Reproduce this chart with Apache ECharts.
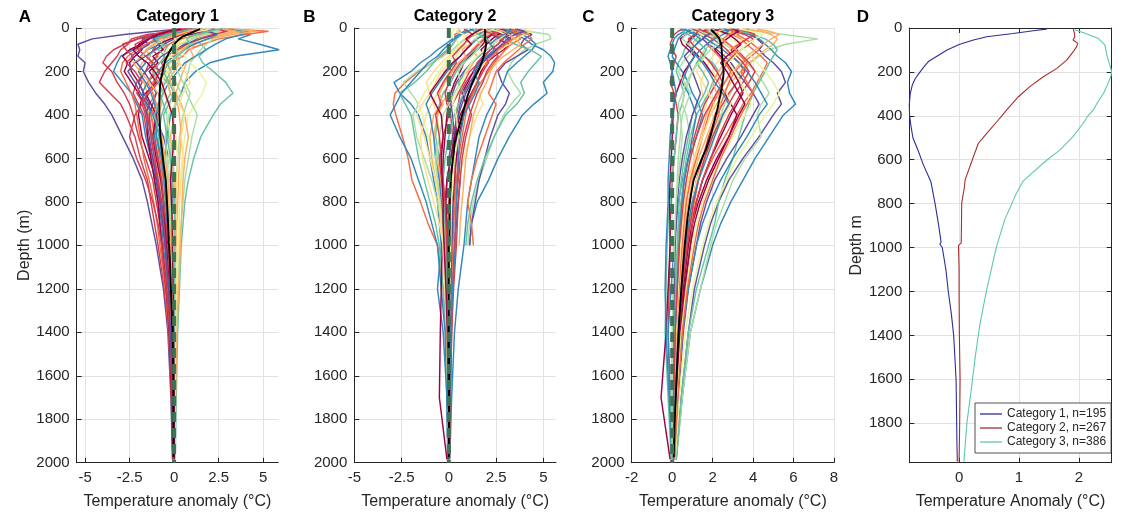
<!DOCTYPE html>
<html><head><meta charset="utf-8">
<script src="https://cdn.jsdelivr.net/npm/echarts@6/dist/echarts.min.js"></script>
<style>html,body{margin:0;padding:0;background:#fff}#c{width:1124px;height:515px}</style>
</head><body><div id="c"></div>
<script>
// ---------------- DATA ----------------
const depthLevels = [5, 15, 30, 50, 75, 100, 130, 160, 200, 250, 300, 350, 400, 500, 600, 700, 800, 900, 1000, 1200, 1400, 1700, 1985];

const cat1Profiles = [
 [0.3,-1.0,-2.8,-4.6,-5.4,-5.3,-5.4,-5.0,-5.1,-4.8,-4.4,-3.9,-3.5,-2.9,-2.3,-1.8,-1.5,-1.25,-1.0,-0.6,-0.35,-0.18,-0.09],
 [2.2,3.5,4.3,3.6,4.8,5.9,3.4,2.0,1.2,0.6,0.4,0.1,-0.2,-0.4,-0.5,-0.4,-0.35,-0.3,-0.25,-0.15,-0.1,-0.05,-0.02],
 [3.0,5.3,4.0,2.5,1.6,0.8,0.5,-0.3,-0.8,-1.2,-1.0,-1.4,-1.3,-1.1,-0.9,-0.8,-0.6,-0.5,-0.45,-0.3,-0.2,-0.1,-0.05],
 [1.0,0.2,-1.5,-2.4,-2.6,-3.0,-3.2,-3.5,-3.9,-4.2,-3.6,-3.0,-2.7,-2.2,-1.9,-1.5,-1.3,-1.1,-0.9,-0.55,-0.3,-0.15,-0.08],
 [1.5,2.0,1.6,1.2,1.5,1.8,1.4,1.6,2.2,2.9,3.3,2.6,2.2,1.5,1.1,0.8,0.6,0.5,0.4,0.3,0.2,0.12,0.06],
 [1.8,2.5,1.9,1.0,0.6,0.3,0.1,-0.2,-0.4,-0.6,-0.7,-0.8,-0.9,-0.7,-0.5,-0.4,-0.3,-0.25,-0.2,-0.12,-0.05,0.0,0.02],
 [1.2,0.8,-0.5,-1.5,-2.0,-1.8,-2.2,-2.5,-2.4,-2.0,-1.7,-1.9,-2.0,-1.8,-1.4,-1.0,-0.8,-0.6,-0.5,-0.3,-0.2,-0.1,-0.05],
 [2.5,3.2,2.8,2.2,1.8,1.5,1.2,0.9,0.8,0.6,0.9,0.7,0.5,0.3,0.2,0.1,0.05,0.0,-0.05,-0.05,-0.02,0.0,0.01],
 [1.0,1.5,0.3,-0.8,-1.5,-2.3,-3.0,-3.2,-3.4,-2.9,-2.4,-2.1,-1.8,-1.6,-1.3,-1.1,-0.9,-0.7,-0.6,-0.35,-0.2,-0.1,-0.04],
 [2.0,1.2,0.0,-0.8,-1.2,-1.6,-1.3,-1.8,-2.0,-1.7,-1.5,-1.6,-1.4,-1.2,-1.0,-0.8,-0.65,-0.5,-0.4,-0.25,-0.15,-0.08,-0.04],
 [0.5,-0.5,-1.0,-2.0,-2.8,-3.4,-3.8,-4.0,-3.5,-3.2,-2.8,-2.5,-2.3,-2.0,-1.6,-1.2,-1.0,-0.8,-0.65,-0.4,-0.22,-0.12,-0.06],
 [1.4,1.0,0.5,0.2,-0.3,-0.5,-0.6,-0.4,-0.2,-0.5,-0.8,-0.6,-0.4,-0.3,-0.2,-0.1,0.0,0.05,0.08,0.06,0.04,0.02,0.01],
 [2.8,3.8,3.0,1.8,1.2,0.9,1.1,0.7,0.5,0.3,0.1,0.2,0.3,0.4,0.3,0.25,0.2,0.15,0.1,0.05,0.02,0.01,0.0],
 [1.0,0.0,-0.9,-1.8,-1.4,-1.9,-2.4,-2.1,-1.7,-1.3,-1.0,-1.2,-1.4,-1.3,-1.1,-0.9,-0.7,-0.55,-0.45,-0.3,-0.18,-0.09,-0.04],
 [2.2,2.9,2.4,1.6,0.8,0.4,0.6,0.9,1.4,1.8,1.6,1.2,0.8,0.6,0.45,0.35,0.3,0.25,0.2,0.12,0.08,0.04,0.02],
 [1.6,1.0,0.4,-0.2,-0.9,-1.2,-0.9,-1.4,-1.6,-2.1,-2.3,-2.0,-1.7,-1.5,-1.2,-0.95,-0.8,-0.6,-0.5,-0.3,-0.18,-0.09,-0.05],
 [2.6,4.2,3.8,2.9,2.3,1.8,1.2,0.6,0.2,-0.3,-0.6,-0.9,-1.0,-1.1,-0.9,-0.7,-0.55,-0.45,-0.35,-0.2,-0.12,-0.06,-0.03],
 [1.3,0.6,-0.2,-1.0,-1.6,-2.1,-2.6,-2.9,-3.0,-2.7,-2.4,-2.2,-2.1,-1.9,-1.7,-1.4,-1.15,-0.95,-0.8,-0.5,-0.3,-0.15,-0.07],
 [1.9,2.3,1.5,0.9,0.3,0.0,-0.3,-0.1,0.2,0.5,0.7,1.0,1.3,1.0,0.8,0.6,0.5,0.4,0.3,0.2,0.12,0.06,0.03],
 [0.8,0.1,-1.1,-1.4,-1.9,-2.5,-2.9,-2.6,-2.8,-2.4,-2.0,-1.7,-1.5,-1.5,-1.3,-1.1,-0.9,-0.8,-0.7,-0.45,-0.28,-0.14,-0.07],
 [2.4,1.6,1.1,0.5,0.1,-0.3,-0.8,-1.0,-1.2,-1.0,-0.6,-0.3,-0.1,0.1,0.2,0.15,0.1,0.1,0.08,0.05,0.03,0.02,0.01],
 [1.1,0.4,-0.3,-0.6,-0.4,-1.0,-1.5,-1.2,-0.9,-0.4,-0.2,-0.5,-0.7,-0.9,-0.8,-0.6,-0.5,-0.4,-0.35,-0.25,-0.15,-0.08,-0.04],
 [1.7,2.0,0.9,0.0,-0.6,-1.1,-1.6,-2.2,-2.6,-2.2,-1.9,-1.5,-1.1,-0.6,-0.3,-0.2,-0.1,-0.15,-0.2,-0.15,-0.1,-0.05,-0.02],
 [3.4,4.6,3.3,2.0,1.0,0.3,-0.1,0.0,-0.3,-0.2,0.1,0.4,0.6,0.8,0.6,0.5,0.45,0.4,0.35,0.25,0.15,0.08,0.04],
 [1.5,1.8,2.5,1.9,1.1,0.6,0.0,-0.5,-0.9,-1.5,-1.8,-1.6,-1.2,-0.8,-0.7,-0.55,-0.45,-0.35,-0.3,-0.2,-0.12,-0.06,-0.03],
 [2.0,3.0,2.2,1.3,0.7,0.2,-0.4,-0.7,-0.5,-0.9,-1.4,-1.8,-2.2,-2.5,-2.1,-1.6,-1.2,-0.9,-0.7,-0.45,-0.25,-0.12,-0.06],
 [1.4,2.1,1.3,0.4,-0.3,-0.7,-1.0,-1.3,-1.1,-1.5,-1.2,-1.0,-1.3,-1.0,-0.8,-0.6,-0.45,-0.35,-0.3,-0.2,-0.1,-0.05,-0.02],
 [0.9,1.6,0.8,-0.2,-0.9,-0.6,-1.2,-0.9,-1.4,-1.0,-1.6,-1.3,-1.0,-1.2,-1.0,-0.75,-0.6,-0.5,-0.4,-0.25,-0.15,-0.08,-0.03],
 [2.1,1.4,0.6,0.9,0.2,-0.4,-0.2,-0.6,-0.3,-0.8,-0.5,-0.2,-0.4,-0.2,-0.3,-0.2,-0.15,-0.1,-0.1,-0.05,-0.03,0.0,0.0],
 [1.2,0.5,-0.6,-1.2,-0.8,-1.5,-1.9,-1.6,-2.0,-1.6,-1.3,-1.1,-0.9,-1.0,-0.7,-0.55,-0.45,-0.4,-0.3,-0.2,-0.1,-0.05,-0.02],
 [2.7,3.5,2.6,1.4,0.9,0.5,0.1,0.3,0.0,-0.4,-0.2,0.1,0.0,-0.2,-0.1,0.0,0.1,0.05,0.0,0.0,0.0,0.0,0.0],
 [0.6,-0.2,-1.3,-2.1,-2.9,-2.7,-2.3,-2.7,-2.2,-1.8,-2.1,-1.7,-1.5,-1.3,-1.1,-0.9,-0.75,-0.6,-0.5,-0.3,-0.18,-0.08,-0.04],
 [1.9,2.6,1.7,1.1,0.4,0.1,0.4,0.2,-0.2,0.1,0.4,0.1,-0.3,-0.5,-0.4,-0.3,-0.2,-0.2,-0.15,-0.1,-0.05,-0.02,0.0],
 [1.1,0.3,-0.4,-1.0,-0.6,-0.9,-0.5,-0.8,-1.2,-0.9,-0.6,-0.9,-1.1,-0.8,-0.6,-0.5,-0.4,-0.35,-0.3,-0.2,-0.12,-0.05,-0.02],
 [2.3,1.9,2.4,1.5,0.6,-0.1,-0.7,-1.1,-1.6,-2.0,-1.7,-1.4,-1.6,-1.4,-1.2,-1.0,-0.8,-0.65,-0.5,-0.3,-0.2,-0.1,-0.04],
 [1.6,1.2,0.7,0.0,0.4,0.0,-0.2,0.3,0.6,0.9,0.5,0.3,0.6,0.4,0.5,0.4,0.3,0.3,0.25,0.15,0.08,0.04,0.02],
 [0.7,0.0,-0.8,-1.6,-2.2,-2.0,-1.6,-1.2,-0.8,-1.1,-1.5,-1.8,-1.6,-1.2,-0.9,-0.7,-0.6,-0.45,-0.35,-0.2,-0.12,-0.05,-0.02],
 [2.5,2.0,1.2,0.7,0.9,0.6,0.2,-0.3,-0.6,-0.3,0.0,-0.3,-0.6,-0.4,-0.2,-0.1,0.0,0.05,0.05,0.03,0.02,0.01,0.0],
 [1.3,0.8,0.2,-0.5,-1.1,-1.5,-1.8,-2.3,-1.9,-1.4,-0.9,-0.7,-0.9,-0.7,-0.5,-0.35,-0.3,-0.25,-0.2,-0.12,-0.06,-0.03,-0.01],
 [0.4,-0.3,-0.9,-1.4,-1.8,-2.3,-2.0,-1.5,-1.1,-0.7,-0.5,-0.3,-0.1,0.0,-0.1,-0.2,-0.15,-0.1,-0.1,-0.05,-0.03,0.0,0.0]
];

const cat2Profiles = [
 [0.5,0.6,0.3,0.4,0.2,0.0,-0.4,-0.9,-1.6,-2.3,-2.85,-2.94,-2.8,-2.45,-2.15,-1.95,-1.5,-1.1,-0.6,-0.3,-0.15,-0.08,0.0],
 [2.5,3.0,3.6,4.0,4.4,5.0,5.4,5.6,5.5,5.0,5.2,4.5,3.9,3.2,2.6,2.1,1.5,1.2,1.1,null,null,null,null],
 [3.0,4.2,5.3,5.4,4.6,4.0,3.6,3.3,3.1,3.4,3.8,3.3,2.9,2.4,2.0,1.6,1.3,1.1,1.0,null,null,null,null],
 [1.0,0.8,0.5,0.2,-0.2,-0.6,-1.0,-1.5,-2.0,-2.9,-2.6,-2.0,-1.6,-1.2,-1.0,-0.8,-0.6,-0.5,-0.4,-0.6,-0.3,-0.1,-0.05],
 [2.0,2.5,2.2,2.8,2.6,2.2,1.8,1.5,1.3,0.9,0.6,0.5,0.4,0.3,0.2,0.15,0.1,0.1,0.05,0.05,0.02,0.03,0.0],
 [1.5,1.2,1.0,0.8,0.5,0.3,0.0,-0.4,-0.8,-1.2,-1.0,-0.8,-0.6,-0.5,-0.4,-0.3,-0.2,-0.15,-0.1,-0.08,-0.05,-0.02,0.0],
 [3.2,3.6,3.0,2.6,3.2,2.9,2.4,2.0,1.7,1.5,1.2,0.9,0.8,0.5,0.4,0.3,0.25,0.2,0.15,0.1,0.05,0.02,0.01],
 [1.8,2.0,1.5,0.9,0.5,0.2,-0.3,-0.9,-1.7,-2.4,-2.0,-1.6,-1.9,-1.7,-1.3,-0.9,-0.6,-0.4,-0.3,-0.2,-0.1,-0.05,0.0],
 [2.6,3.1,3.5,3.8,3.3,3.0,2.7,2.4,2.1,1.7,1.3,1.0,0.7,0.4,0.2,0.1,0.0,-0.05,-0.05,-0.02,0.0,0.0,0.0],
 [3.5,3.9,4.4,4.0,3.8,4.2,3.6,3.0,2.6,2.8,3.2,3.0,2.6,2.2,1.9,1.6,1.4,1.2,1.1,null,null,null,null],
 [1.2,1.4,1.7,2.0,1.8,1.4,1.0,0.7,0.4,0.1,-0.3,-0.5,-0.6,-0.7,-0.5,-0.4,-0.3,-0.3,-0.25,-0.15,-0.1,-0.05,-0.02],
 [2.3,2.0,1.6,1.9,2.2,2.5,2.0,1.6,1.1,0.8,0.5,0.2,0.0,-0.3,-0.5,-0.4,-0.3,-0.25,-0.2,-0.1,-0.05,-0.03,0.0],
 [0.3,0.2,0.1,0.3,0.6,0.4,0.1,-0.2,-0.5,-0.9,-1.3,-1.6,-1.4,-1.1,-0.8,-0.6,-0.45,-0.3,-0.2,-0.1,-0.05,0.0,0.0],
 [2.8,3.3,3.9,4.3,4.6,4.4,4.0,3.6,3.1,2.9,2.6,2.3,2.0,1.6,1.4,1.2,1.0,0.9,0.8,0.5,0.3,0.15,0.05],
 [1.6,1.8,2.1,1.8,1.5,1.2,1.5,1.3,1.0,0.5,0.0,-0.4,-0.8,-1.0,-0.9,-0.7,-0.5,-0.35,-0.3,-0.2,-0.12,-0.05,0.0],
 [2.1,2.4,2.8,3.2,3.0,2.6,2.2,1.8,1.5,1.1,0.8,0.6,0.5,0.4,0.5,0.6,0.5,0.4,0.3,0.2,0.12,0.05,0.02],
 [3.8,4.4,4.0,3.5,3.2,2.7,2.3,1.9,1.6,1.4,1.6,1.8,1.5,1.1,0.8,0.5,0.3,0.2,0.15,0.1,0.05,0.02,0.0],
 [0.9,1.1,0.7,0.4,0.2,-0.1,-0.5,-0.8,-1.2,-1.8,-2.6,-2.3,-2.0,-1.8,-1.6,-1.3,-1.0,-0.7,-0.5,-0.3,-0.15,-0.05,0.0],
 [2.9,2.5,2.2,1.9,1.6,1.3,0.9,0.6,0.3,0.0,-0.2,-0.1,0.1,0.2,0.3,0.35,0.3,0.25,0.2,0.12,0.08,0.04,0.02],
 [1.3,1.0,0.6,0.3,0.0,-0.3,-0.6,-1.1,-1.5,-2.0,-2.5,-2.8,-3.1,-2.6,-2.0,-1.6,-1.2,-0.9,-0.6,-0.4,-0.2,-0.1,-0.05],
 [2.2,2.7,2.3,2.0,1.8,1.5,1.1,0.8,0.6,0.3,0.1,0.0,-0.1,-0.2,-0.3,-0.3,-0.3,-0.35,-0.35,-0.4,-0.45,-0.5,-0.1],
 [3.3,3.7,4.2,4.4,4.0,3.7,3.3,2.9,2.5,2.3,2.1,2.5,2.3,1.9,1.5,1.2,1.0,1.2,1.3,null,null,null,null],
 [2.0,2.3,2.6,3.0,3.5,4.3,4.9,4.6,4.2,3.8,4.0,3.6,3.0,2.4,1.9,1.5,1.2,1.0,0.9,null,null,null,null],
 [0.6,0.4,0.8,1.1,0.9,0.6,0.4,0.2,0.0,-0.3,-0.6,-0.9,-1.2,-1.5,-1.4,-1.1,-0.8,-0.5,-0.3,-0.2,-0.1,-0.05,0.0],
 [1.7,2.2,2.9,3.3,2.9,2.5,2.6,2.3,2.0,1.8,1.5,1.3,1.1,0.8,0.6,0.5,0.4,0.35,0.3,0.2,0.15,0.08,0.03],
 [2.4,2.9,3.3,2.7,2.3,2.0,1.6,1.2,0.8,0.4,0.2,0.1,0.2,0.3,0.1,-0.1,-0.2,-0.2,-0.15,-0.1,-0.05,0.0,0.0],
 [1.9,2.2,1.8,1.4,1.1,0.7,0.9,0.5,0.2,-0.2,-0.5,-0.3,-0.6,-0.8,-0.6,-0.45,-0.35,-0.25,-0.2,-0.12,-0.06,-0.03,0.0],
 [2.7,3.0,2.6,2.3,2.0,1.7,1.9,1.6,1.3,1.0,0.7,0.9,0.6,0.3,0.1,-0.1,-0.15,-0.1,-0.1,-0.05,0.0,0.0,0.0],
 [1.1,1.5,1.9,1.5,1.2,0.9,0.6,0.3,-0.1,-0.5,-0.9,-1.2,-1.0,-0.8,-0.7,-0.5,-0.4,-0.3,-0.25,-0.15,-0.08,-0.04,0.0],
 [3.0,3.4,3.8,3.4,3.0,2.6,2.3,2.0,1.8,1.5,1.3,1.0,0.9,0.7,0.5,0.4,0.3,0.25,0.2,0.12,0.06,0.03,0.01],
 [2.4,2.1,1.7,1.4,1.7,1.5,1.2,0.8,0.5,0.6,0.3,0.0,-0.3,-0.5,-0.7,-0.6,-0.45,-0.35,-0.3,-0.2,-0.1,-0.05,0.0],
 [1.4,1.9,2.4,2.9,2.6,2.2,1.9,2.1,1.8,1.5,1.2,1.0,1.2,0.9,0.7,0.6,0.5,0.45,0.4,0.25,0.15,0.08,0.03],
 [2.0,1.7,1.3,1.0,0.7,0.5,0.2,0.0,-0.4,-0.7,-1.0,-1.4,-1.7,-1.3,-1.0,-0.7,-0.5,-0.4,-0.3,-0.2,-0.1,-0.05,0.0],
 [3.6,4.0,3.5,3.1,2.8,2.5,2.1,1.7,1.4,1.2,0.9,0.7,0.5,0.2,0.0,0.1,0.2,0.2,0.15,0.1,0.05,0.02,0.0],
 [1.6,1.3,1.6,2.0,2.4,2.0,1.6,1.2,0.9,0.5,0.8,0.5,0.3,0.0,-0.2,-0.3,-0.25,-0.2,-0.15,-0.1,-0.05,0.0,0.0],
 [2.5,2.9,3.2,3.5,3.8,3.4,2.9,2.5,2.2,2.0,1.7,1.5,1.3,1.1,0.9,0.8,0.7,0.6,0.55,null,null,null,null],
 [0.8,1.0,1.3,1.0,0.8,0.5,0.2,0.4,0.1,-0.3,-0.6,-0.4,-0.7,-0.5,-0.4,-0.3,-0.2,-0.15,-0.1,-0.05,0.0,0.0,0.0],
 [2.2,2.6,3.0,2.7,2.3,1.9,1.5,1.2,0.9,0.7,0.4,0.2,0.4,0.5,0.3,0.2,0.15,0.1,0.1,0.05,0.03,0.01,0.0],
 [1.7,1.5,1.2,0.9,1.2,0.9,0.6,0.2,-0.2,-0.6,-1.0,-0.7,-0.4,-0.3,-0.4,-0.35,-0.3,-0.3,-0.25,-0.15,-0.08,-0.04,0.0],
 [2.9,3.3,2.9,2.5,2.2,2.4,2.0,1.6,1.3,1.6,1.4,1.1,0.8,0.6,0.5,0.45,0.4,0.35,0.35,0.2,0.1,0.05,0.02]
];

const cat3Profiles = [
 [3.0,4.2,5.5,7.2,5.6,4.8,4.3,3.9,3.5,3.2,2.9,2.6,2.4,2.0,1.6,1.3,1.0,0.8,0.7,0.5,0.35,0.2,0.1],
 [2.5,3.2,3.8,4.3,4.6,4.9,5.2,5.6,5.9,5.7,5.8,6.1,5.5,4.8,4.1,3.5,2.9,2.4,2.0,1.4,0.9,0.5,0.2],
 [0.5,0.3,0.1,0.0,-0.1,0.0,0.2,0.1,0.0,-0.1,0.1,0.2,0.3,0.2,0.1,0.0,-0.05,-0.1,-0.1,-0.15,-0.2,-0.1,0.0],
 [2.0,2.5,3.0,3.4,3.7,4.0,4.4,4.7,4.5,4.2,3.9,3.5,3.2,2.6,2.0,1.5,1.2,0.9,0.7,0.45,0.3,0.18,0.08],
 [1.5,1.8,2.0,2.3,2.5,2.2,2.0,1.8,1.6,1.4,1.5,1.7,1.5,1.2,0.9,0.7,0.6,0.5,0.4,0.3,0.2,0.1,0.05],
 [3.0,3.5,3.9,4.2,4.5,4.3,4.6,5.0,5.4,5.6,5.2,5.4,5.0,4.3,3.5,2.8,2.3,1.9,1.6,1.1,0.8,0.45,0.2],
 [0.8,1.0,1.2,1.0,0.8,0.6,0.5,0.3,0.2,0.4,0.6,0.5,0.3,0.2,0.1,0.0,-0.1,-0.2,-0.25,-0.3,-0.35,-0.2,-0.05],
 [2.6,3.0,3.6,4.0,3.8,3.4,3.0,3.3,3.6,3.2,2.8,2.5,2.2,1.8,1.5,1.2,1.0,0.85,0.7,0.5,0.35,0.2,0.1],
 [1.2,1.5,1.9,2.2,2.6,3.0,3.4,3.7,4.1,4.5,4.8,4.4,4.2,4.4,3.6,3.0,2.6,2.2,1.9,1.4,0.9,0.5,0.2],
 [1.8,1.5,1.2,0.9,0.7,1.0,1.3,1.6,1.9,2.3,2.6,2.9,3.2,2.8,2.2,1.7,1.3,1.0,0.8,0.55,0.4,0.25,0.1],
 [3.5,4.4,4.9,5.2,5.0,4.6,4.2,3.8,3.4,2.9,2.5,2.2,1.9,1.5,1.1,0.8,0.6,0.5,0.4,0.25,0.15,0.08,0.03],
 [1.0,0.8,0.5,0.3,0.2,0.1,0.0,0.2,0.5,0.8,1.0,1.3,1.5,1.2,0.8,0.5,0.3,0.2,0.1,-0.05,-0.2,-0.1,0.0],
 [2.2,2.6,3.1,3.5,3.2,2.8,2.5,2.2,2.0,2.3,2.7,2.9,2.6,2.1,1.6,1.2,1.0,0.9,0.8,0.6,0.4,0.25,0.1],
 [1.4,1.1,0.7,0.4,0.5,0.8,1.1,0.9,0.6,0.4,0.2,0.1,0.05,0.0,-0.05,-0.1,-0.15,-0.1,-0.1,-0.2,-0.3,-0.55,-0.1],
 [2.8,3.4,4.0,4.6,5.0,5.2,5.0,4.8,4.6,4.3,4.0,3.8,3.6,3.3,3.0,2.6,2.3,2.1,1.8,1.2,0.8,0.45,0.2],
 [0.9,1.3,1.6,2.0,2.4,2.7,3.0,2.7,2.5,2.2,1.9,1.6,1.4,1.1,0.8,0.6,0.45,0.35,0.3,0.2,0.1,0.05,0.02],
 [2.4,2.0,1.7,1.5,1.8,2.2,2.6,2.9,3.2,3.6,4.0,4.3,4.0,3.4,2.7,2.1,1.7,1.4,1.2,0.8,0.55,0.3,0.12],
 [0.4,0.6,0.3,0.1,0.0,-0.1,-0.2,-0.1,0.0,0.1,0.2,0.1,0.0,-0.1,-0.15,-0.2,-0.2,-0.25,-0.3,-0.35,-0.3,-0.15,0.0],
 [3.8,3.5,3.2,3.6,4.0,4.3,3.9,3.5,3.1,2.8,2.6,2.4,2.3,1.9,1.6,1.3,1.1,0.9,0.75,0.55,0.35,0.2,0.08],
 [1.7,2.2,2.6,2.9,3.3,3.6,3.9,4.2,4.6,5.0,5.3,5.0,4.6,3.9,3.2,2.7,2.2,1.8,1.5,1.0,0.65,0.35,0.15],
 [2.0,1.8,1.5,1.2,1.0,1.3,1.6,2.0,2.3,2.0,1.8,1.5,1.2,0.9,0.7,0.55,0.45,0.35,0.3,0.2,0.1,0.05,0.02],
 [2.9,3.3,3.0,2.7,2.4,2.1,2.4,2.7,3.0,3.3,3.5,3.2,2.9,2.4,1.9,1.5,1.2,1.0,0.8,0.55,0.35,0.2,0.08],
 [1.1,1.4,1.8,2.1,1.9,1.6,1.4,1.2,1.0,0.8,0.6,0.5,0.7,0.9,1.1,1.0,0.85,0.7,0.6,0.4,0.25,0.12,0.05],
 [0.6,0.9,1.3,1.7,2.1,2.5,2.9,3.3,3.7,4.1,4.4,4.7,4.3,3.7,3.0,2.4,1.9,1.5,1.2,0.8,0.5,0.25,0.1],
 [4.2,4.8,5.3,4.9,4.5,4.1,3.7,3.4,3.0,2.6,2.2,1.9,1.7,1.4,1.1,0.9,0.7,0.6,0.5,0.35,0.2,0.1,0.05],
 [1.3,1.6,2.0,2.4,2.8,3.2,3.5,3.8,4.1,3.8,3.4,3.1,2.8,2.3,1.9,1.5,1.2,1.0,0.9,0.65,0.45,0.25,0.1],
 [1.6,1.9,2.3,2.0,1.7,2.0,2.3,2.6,2.9,2.6,2.3,2.0,1.8,1.5,1.2,0.9,0.7,0.6,0.5,0.35,0.22,0.12,0.05],
 [0.9,1.1,1.5,1.3,1.0,1.3,1.6,1.4,1.2,1.5,1.8,2.1,1.9,1.5,1.1,0.8,0.6,0.5,0.4,0.3,0.2,0.1,0.05],
 [2.3,2.8,2.5,2.1,1.7,1.4,1.1,0.9,0.7,0.5,0.8,1.0,1.2,1.0,0.8,0.6,0.5,0.4,0.35,0.25,0.15,0.08,0.03],
 [3.2,3.7,4.1,3.7,3.3,2.9,3.2,3.5,3.8,3.5,3.1,2.8,2.5,2.0,1.6,1.3,1.05,0.9,0.75,0.5,0.35,0.2,0.08],
 [1.3,1.0,0.7,0.5,0.8,1.1,0.8,0.5,0.3,0.6,0.9,0.7,0.5,0.4,0.3,0.25,0.2,0.15,0.1,0.05,0.0,-0.05,0.0],
 [2.0,2.4,2.8,3.1,3.4,3.1,2.7,2.4,2.7,3.0,3.3,3.6,3.3,2.8,2.3,1.8,1.4,1.1,0.9,0.6,0.4,0.22,0.1],
 [0.7,0.5,0.8,1.1,1.4,1.7,1.5,1.2,1.5,1.8,1.6,1.3,1.0,0.8,0.6,0.45,0.35,0.3,0.25,0.15,0.1,0.05,0.02],
 [2.6,2.3,2.0,2.4,2.8,3.2,2.9,2.6,2.3,2.0,2.2,2.4,2.1,1.7,1.3,1.0,0.8,0.65,0.55,0.4,0.25,0.15,0.06],
 [1.9,2.1,1.8,1.5,1.2,0.9,0.6,0.8,1.0,1.2,1.4,1.2,1.0,0.7,0.5,0.35,0.25,0.2,0.15,0.1,0.05,0.02,0.0],
 [3.3,3.9,4.5,4.1,3.7,3.4,3.1,2.8,3.1,3.4,3.7,3.9,3.6,3.0,2.4,1.9,1.5,1.2,1.0,0.7,0.45,0.25,0.1],
 [1.0,1.3,1.1,0.8,1.0,1.3,1.6,1.9,2.2,2.5,2.2,1.9,1.6,1.2,0.9,0.7,0.55,0.45,0.35,0.25,0.15,0.08,0.03],
 [2.1,1.8,2.1,2.5,2.2,1.9,1.6,1.3,1.0,0.7,0.5,0.3,0.4,0.5,0.4,0.3,0.2,0.15,0.1,0.05,0.02,0.0,0.0],
 [0.5,0.8,1.1,1.4,1.2,0.9,1.2,1.5,1.8,2.1,2.5,2.8,2.5,2.1,1.7,1.3,1.0,0.8,0.65,0.45,0.3,0.15,0.05],
 [2.8,3.1,2.8,2.5,2.8,3.1,3.4,3.7,3.4,3.7,4.0,3.7,3.4,2.9,2.4,2.0,1.6,1.3,1.1,0.75,0.5,0.28,0.12]
];

const meanDepth1 = [5,10,25,40,55,75,100,125,150,175,200,230,260,300,350,400,450,500,560,620,700,800,900,975,985,1000,1100,1200,1300,1400,1500,1600,1700,1800,1900,1975];
const meanCat1 = [1.46,1.3,0.9,0.46,0.24,0.0,-0.2,-0.35,-0.5,-0.58,-0.65,-0.73,-0.78,-0.815,-0.83,-0.825,-0.8,-0.77,-0.68,-0.6,-0.47,-0.4,-0.34,-0.3,-0.32,-0.28,-0.22,-0.18,-0.13,-0.09,-0.07,-0.05,-0.045,-0.04,-0.035,-0.03];
const meanDepth2 = [5,20,40,55,70,85,108,146,184,222,267,313,373,427,480,526,586,647,692,723,798,900,980,990,1100,1200,1400,1600,1800,1975];
const meanCat2 = [1.905,1.92,1.93,1.9,1.98,1.96,1.905,1.795,1.63,1.405,1.18,0.99,0.795,0.63,0.46,0.32,0.24,0.16,0.1,0.09,0.044,0.04,0.035,-0.01,0.0,0.0,0.005,0.017,0.01,0.0];
const meanDepth3 = [8,24,47,77,130,184,200,222,267,297,343,373,400,434,495,556,600,660,700,768,874,1000,1193,1345,1497,1664,1800,1975];
const meanCat3 = [1.93,2.1,2.32,2.43,2.47,2.53,2.545,2.53,2.46,2.41,2.3,2.24,2.15,2.07,1.9,1.68,1.47,1.22,1.06,0.93,0.76,0.62,0.46,0.35,0.27,0.195,0.13,0.08];

const panelTitles = ['Category 1', 'Category 2', 'Category 3'];
const panelLetters = ['A', 'B', 'C', 'D'];
const legendNames = ['Category 1, n=195', 'Category 2, n=267', 'Category 3, n=386'];
const xTicksA = [-5, -2.5, 0, 2.5, 5];
const xTicksB = [-5, -2.5, 0, 2.5, 5];
const xTicksC = [-2, 0, 2, 4, 6, 8];
const xTicksD = [0, 1, 2];
const yTicksD = [0, 200, 400, 600, 800, 1000, 1200, 1400, 1600, 1800];

// ---------------- STYLE / LAYOUT ----------------
const FONT = 'Liberation Sans, Arial, Helvetica, sans-serif';
const INK = '#262626';
const GRIDC = '#e2e2e2';
const spectral = ['#9e0142','#d53e4f','#f46d43','#fdae61','#fee08b','#e6f598','#abdda4','#66c2a5','#3288bd','#5e4fa2'];
const colorIdx = [
  [9,8,2,1,7,4,0,6,8,3,1,7,3,9,5,1,8,2,6,0,4,7,9,3,8,1, 2,0,5,8,3,1,6,7,9,4,1,7,3,0],
  [2,8,6,8,1,4,0,6,2,9,7,1,5,8,3,9,4,7,1,8,0,2,7,4,1,9, 3,0,8,2,6,1,4,9,7,3,1,5,0,8],
  [6,8,1,2,4,9,7,1,6,0,3,8,4,0,7,1,9,8,2,5,7,0,6,8,3,1, 2,4,8,1,6,0,7,3,9,5,1,6,8,2]
];
const meanColorsD = ['#2c2c9c', '#a82c2c', '#5cc8aa'];
const panels = [
  {left: 76.7, width: 201.6, xmin: -5.47, xmax: 5.85, ticks: xTicksA},
  {left: 354.3, width: 201.7, xmin: -5.0, xmax: 5.67, ticks: xTicksB},
  {left: 631.7, width: 202.3, xmin: -2, xmax: 8, ticks: xTicksC},
  {left: 909.3, width: 202.4, xmin: -0.83, xmax: 2.545, ticks: xTicksD}
];
const TOP = 28, H = 434.7;

const grid = panels.map(p => ({left: p.left, top: TOP, width: p.width, height: H, outerBoundsMode: 'none', containLabel: false}));

const xAxis = [];
const yAxis = [];
panels.forEach((p, i) => {
  xAxis.push({
    gridIndex: i, type: 'value', min: p.xmin, max: p.xmax, position: 'bottom',
    axisLine: {show: true, onZero: false, lineStyle: {color: INK, width: 1}},
    axisTick: {show: true, inside: true, length: 5, customValues: p.ticks, lineStyle: {color: INK}},
    axisLabel: {show: true, customValues: p.ticks, formatter: v => String(v), color: INK, fontSize: 15, fontFamily: FONT, margin: 8},
    splitLine: {show: true, lineStyle: {color: GRIDC, width: 1}},
    name: i === 3 ? 'Temperature Anomaly (°C)' : 'Temperature anomaly (°C)',
    nameLocation: 'middle', nameGap: 31,
    nameTextStyle: {color: INK, fontSize: 16, fontFamily: FONT}
  });
  const isD = i === 3;
  yAxis.push({
    gridIndex: i, type: 'value', inverse: true, min: 0, max: isD ? 1980 : 2000,
    interval: isD ? undefined : 200,
    axisLine: {show: true, onZero: false, lineStyle: {color: INK, width: 1}},
    axisTick: isD ? {show: true, inside: true, length: 5, customValues: yTicksD, lineStyle: {color: INK}}
                  : {show: true, inside: true, length: 5, lineStyle: {color: INK}},
    axisLabel: isD ? {customValues: yTicksD, formatter: v => String(v), color: INK, fontSize: 15, fontFamily: FONT, margin: 7}
                   : {formatter: v => String(v), color: INK, fontSize: 15, fontFamily: FONT, margin: 7},
    splitLine: {show: true, lineStyle: {color: GRIDC, width: 1}},
    name: i === 0 ? 'Depth (m)' : (isD ? 'Depth m' : ''),
    nameLocation: 'middle', nameGap: 44, nameRotate: 90,
    nameTextStyle: {color: INK, fontSize: 16, fontFamily: FONT}
  });
});
// box for panel D (top & right axes)
xAxis.push({gridIndex: 3, type: 'value', min: panels[3].xmin, max: panels[3].xmax, position: 'top',
  axisLine: {show: true, onZero: false, lineStyle: {color: INK}},
  axisTick: {show: true, inside: true, length: 5, customValues: xTicksD, lineStyle: {color: INK}},
  axisLabel: {show: false}, splitLine: {show: false}});
yAxis.push({gridIndex: 3, type: 'value', inverse: true, min: 0, max: 1980, position: 'right',
  axisLine: {show: true, onZero: false, lineStyle: {color: INK}},
  axisTick: {show: true, inside: true, length: 5, customValues: yTicksD, lineStyle: {color: INK}},
  axisLabel: {show: false}, splitLine: {show: false}});

const series = [];
const base = {type: 'line', symbol: 'none', symbolSize: 0, showSymbol: false, silent: true, animation: false, connectNulls: false};
[cat1Profiles, cat2Profiles, cat3Profiles].forEach((profiles, gi) => {
  profiles.forEach((prof, k) => {
    const data = [];
    depthLevels.forEach((z, j) => { if (prof[j] != null) data.push([prof[j], z]); });
    series.push(Object.assign({}, base, {
      xAxisIndex: gi, yAxisIndex: gi, data,
      lineStyle: {color: spectral[colorIdx[gi][k]], width: 1.45}
    }));
  });
});
const means = [[meanDepth1, meanCat1], [meanDepth2, meanCat2], [meanDepth3, meanCat3]];
means.forEach(([dz, vals], gi) => {
  series.push(Object.assign({}, base, {
    xAxisIndex: gi, yAxisIndex: gi, data: dz.map((z, j) => [vals[j], z]),
    lineStyle: {color: '#000', width: 1.9}
  }));
  series.push(Object.assign({}, base, {
    xAxisIndex: gi, yAxisIndex: gi, data: [[0, 0], [0, 2000]],
    lineStyle: {color: '#3d7354', width: 4, type: [10, 6]}
  }));
});
means.forEach(([dz, vals], k) => {
  series.push(Object.assign({}, base, {
    name: legendNames[k], xAxisIndex: 3, yAxisIndex: 3, data: dz.map((z, j) => [vals[j], z]),
    lineStyle: {color: meanColorsD[k], width: 1.1}, itemStyle: {color: meanColorsD[k]}
  }));
});

const graphic = [];
panelTitles.forEach((t, i) => {
  graphic.push({type: 'text', x: panels[i].left + panels[i].width / 2, y: 17, silent: true,
    style: {text: t, align: 'center', verticalAlign: 'middle', fontSize: 16, fontWeight: 'bold', fontFamily: FONT, fill: '#000'}});
});
const letterX = [25, 309.5, 588.5, 863];
panelLetters.forEach((t, i) => {
  graphic.push({type: 'text', x: letterX[i], y: 17, silent: true,
    style: {text: t, align: 'center', verticalAlign: 'middle', fontSize: 17, fontWeight: 'bold', fontFamily: FONT, fill: '#000'}});
});

const option = {
  animation: false,
  backgroundColor: '#fff',
  grid, xAxis, yAxis, series, graphic,
  legend: {
    data: legendNames.map(n => ({name: n, icon: 'rect'})), orient: 'vertical', left: 975, top: 403,
    backgroundColor: '#fff', borderColor: INK, borderWidth: 0.8, borderRadius: 0,
    padding: [5, 5, 5, 5], itemWidth: 22, itemHeight: 1.3, itemGap: 2,
    textStyle: {fontSize: 12, color: INK, fontFamily: FONT},
    selectedMode: false
  }
};
const chart = echarts.init(document.getElementById('c'), null, {renderer: 'canvas'});
chart.setOption(option);
</script></body></html>
